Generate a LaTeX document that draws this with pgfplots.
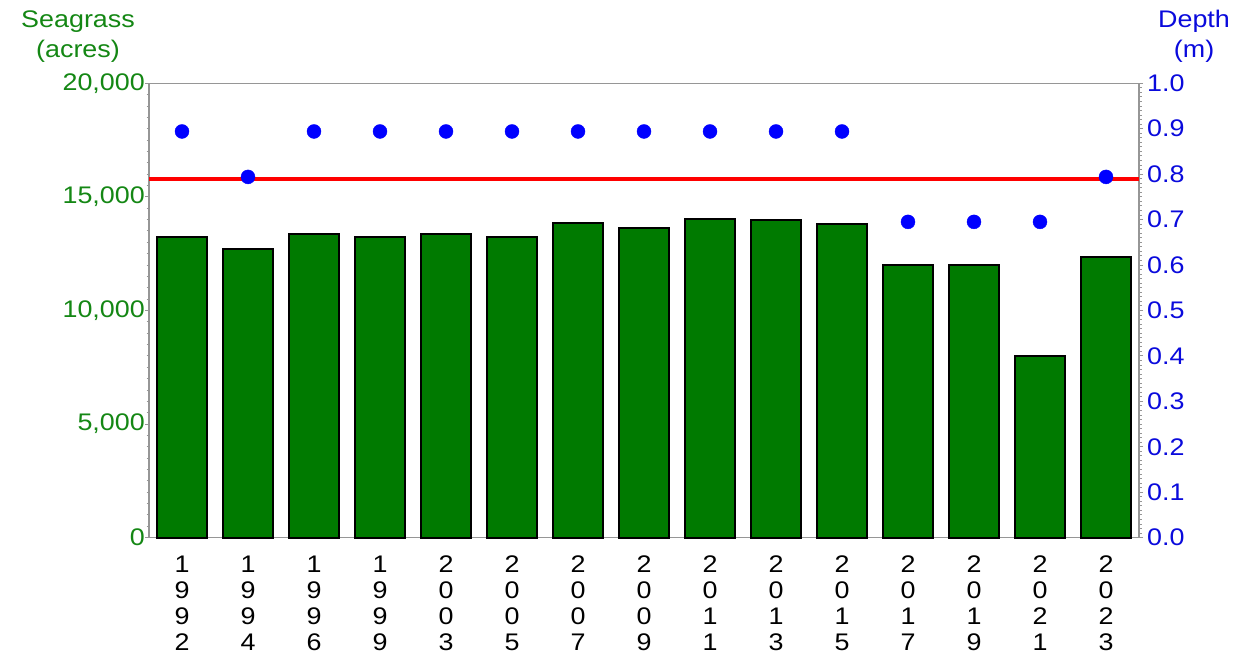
\documentclass[border=0pt]{standalone}
\usepackage{pgfplots}
\pgfplotsset{compat=1.18}
\usepackage{fontspec}
\setmainfont{Liberation Sans}[FakeStretch=1.12]
\definecolor{bargreen}{RGB}{0,122,0}
\definecolor{labgreen}{RGB}{20,135,20}
\definecolor{labblue}{RGB}{10,10,220}
\definecolor{dotblue}{RGB}{0,0,255}
\definecolor{axgray}{RGB}{150,150,150}
\begin{document}
\fontsize{24}{26}\selectfont
\begin{tikzpicture}[x=1pt,y=1pt]
\useasboundingbox (0,0) rectangle (1246,661);
\pgfplotsset{
  common/.style={
    at={(149pt,123.3pt)}, anchor=south west,
    scale only axis, width=990pt, height=454.4pt,
    xmin=-0.5, xmax=14.5,
    axis line style={axgray, line width=1.5pt},
    tick align=outside,
    major tick length=4pt, minor tick length=2.5pt,
    every tick/.style={axgray, line width=1pt},
    minor y tick num=9,
    /pgf/number format/assume math mode=true,
    tick label style={font=\fontsize{24}{26}\selectfont},
  }
}
\begin{axis}[common,
  clip=false,
  ymin=0, ymax=20000,
  ytick={0,5000,10000,15000,20000},
  ytick pos=left,
  scaled y ticks=false,
  yticklabel style={text=labgreen, xshift=8pt, /pgf/number format/1000 sep={,}},
  xtick={0,...,14},
  xtick pos=bottom,
  major x tick style={draw=none},
  xticklabels={{1\\9\\9\\2},{1\\9\\9\\4},{1\\9\\9\\6},{1\\9\\9\\9},{2\\0\\0\\3},{2\\0\\0\\5},{2\\0\\0\\7},{2\\0\\0\\9},{2\\0\\1\\1},{2\\0\\1\\3},{2\\0\\1\\5},{2\\0\\1\\7},{2\\0\\1\\9},{2\\0\\2\\1},{2\\0\\2\\3}},
  xticklabel style={align=center, text=black, yshift=-6pt},
]
\addplot[ybar, bar width=0.76, fill=bargreen, draw=black, line width=1.8pt]
  coordinates {(0,13220)(1,12720)(2,13380)(3,13220)(4,13380)(5,13250)(6,13850)(7,13620)(8,14030)(9,14000)(10,13790)(11,11990)(12,12020)(13,7980)(14,12350)};
\node[text=labgreen, align=center, font=\fontsize{24}{30}\selectfont] at (axis description cs:-0.0717,1.103) {Seagrass\\(acres)};
\node[text=labblue, align=center, font=\fontsize{24}{30}\selectfont] at (axis description cs:1.0556,1.103) {Depth\\(m)};
\end{axis}
\begin{axis}[common,
  ymin=0, ymax=1,
  axis y line*=right, axis x line=none,
  ytick={0,0.1,0.2,0.3,0.4,0.5,0.6,0.7,0.8,0.9,1.0},
  yticklabel style={text=labblue, xshift=-4pt, /pgf/number format/.cd, fixed, fixed zerofill, precision=1},
]
\addplot[red, line width=4pt] coordinates {(-0.5,0.79)(14.5,0.79)};
\addplot[only marks, mark=*, mark size=7pt, dotblue, mark options={draw=dotblue, fill=dotblue}]
  coordinates {(0,0.894)(1,0.794)(2,0.894)(3,0.894)(4,0.894)(5,0.894)(6,0.894)(7,0.894)(8,0.894)(9,0.894)(10,0.894)(11,0.695)(12,0.695)(13,0.695)(14,0.794)};
\end{axis}
\end{tikzpicture}
\end{document}
